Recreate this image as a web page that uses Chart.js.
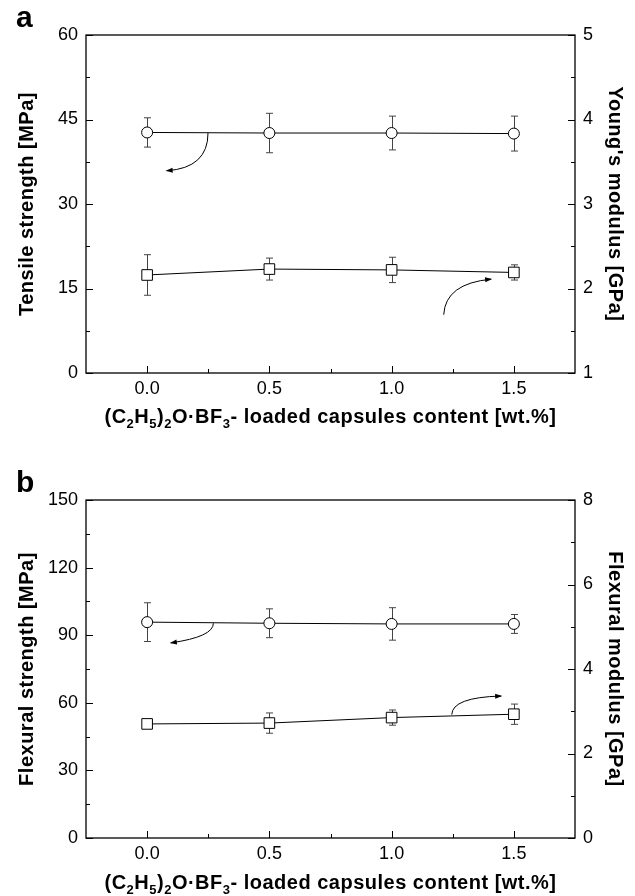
<!DOCTYPE html>
<html>
<head>
<meta charset="utf-8">
<script src="https://cdn.jsdelivr.net/npm/chart.js@4.4.0/dist/chart.umd.min.js"></script>
<style>
  body { margin: 0; background: #fff; }
  .panel { position: absolute; left: 0; }
</style>
</head>
<body>
<div class="panel" style="top:0"><canvas id="chartA" width="635" height="440"></canvas></div>
<div class="panel" style="top:440px"><canvas id="chartB" width="635" height="456"></canvas></div>
<script>
// shared x axis
const capsuleContent = [0, 0.5, 1.0, 1.5];
const xTicks = [0, 0.5, 1.0, 1.5];
const xMinorTicks = [0.25, 0.75, 1.25];

// panel a: tensile tests
const tensileStrength = [42.7, 42.6, 42.6, 42.5];
const tensileStrengthErr = [2.6, 3.5, 3.0, 3.1];
const youngsModulus = [2.16, 2.23, 2.22, 2.19];
const youngsModulusErr = [0.24, 0.13, 0.15, 0.09];
const tensileTicks = [0, 15, 30, 45, 60];
const tensileMinorTicks = [7.5, 22.5, 37.5, 52.5];
const youngsTicks = [1, 2, 3, 4, 5];
const youngsMinorTicks = [1.5, 2.5, 3.5, 4.5];

// panel b: flexural tests
const flexuralStrength = [95.8, 95.3, 95.0, 95.0];
const flexuralStrengthErr = [8.6, 6.4, 7.2, 4.2];
const flexuralModulus = [2.70, 2.72, 2.85, 2.93];
const flexuralModulusErr = [0.04, 0.24, 0.18, 0.24];
const flexStrengthTicks = [0, 30, 60, 90, 120, 150];
const flexStrengthMinorTicks = [15, 45, 75, 105, 135];
const flexModulusTicks = [0, 2, 4, 6, 8];
const flexModulusMinorTicks = [1, 3, 5, 7];

// curved arrows pointing to the axis each series belongs to (data units)
const arrowsA = [
  { axis: 'y', from: [0.249, 42.6], via: [0.249, 36.4], to: [0.08, 35.9] },
  { axis: 'y2', from: [1.213, 1.69], via: [1.22, 2.06], to: [1.407, 2.11] }
];
const arrowsB = [
  { axis: 'y', from: [0.271, 95.3], via: [0.271, 89.3], to: [0.097, 86.6] },
  { axis: 'y2', from: [1.246, 2.92], via: [1.248, 3.33], to: [1.448, 3.36] }
];

// x title pieces, second item = subscript
const xTitleParts = [['(C', 0], ['2', 1], ['H', 0], ['5', 1], [')', 0], ['2', 1], ['O·BF', 0], ['3', 1], ['- loaded capsules content [wt.%]', 0]];

const FONT = "'Liberation Sans', Arial, sans-serif";

function fixTicks(values) {
  return scale => { scale.ticks = values.map(v => ({ value: v })); };
}

const decor = {
  id: 'decor',
  beforeDatasetsDraw(chart) {
    // error bars under the markers
    const ctx = chart.ctx;
    ctx.save();
    ctx.strokeStyle = '#444';
    ctx.lineWidth = 1;
    chart.data.datasets.forEach(ds => {
      const xs = chart.scales.x, ys = chart.scales[ds.yAxisID];
      ds.data.forEach((p, j) => {
        const e = ds.errors[j];
        const px = Math.round(xs.getPixelForValue(p.x)) + 0.5;
        const top = ys.getPixelForValue(p.y + e), bot = ys.getPixelForValue(p.y - e);
        ctx.beginPath();
        ctx.moveTo(px, top); ctx.lineTo(px, bot);
        ctx.moveTo(px - 3.5, top); ctx.lineTo(px + 3.5, top);
        ctx.moveTo(px - 3.5, bot); ctx.lineTo(px + 3.5, bot);
        ctx.stroke();
      });
    });
    ctx.restore();
  },
  afterDraw(chart, args, opts) {
    const ctx = chart.ctx;
    const a = chart.chartArea;
    const sx = chart.scales.x, sy = chart.scales.y, sy2 = chart.scales.y2;
    ctx.save();
    ctx.strokeStyle = '#000';
    ctx.lineWidth = 1.3;
    ctx.strokeRect(a.left, a.top, a.right - a.left, a.bottom - a.top);

    // inward ticks
    ctx.lineWidth = 1;
    ctx.beginPath();
    const tick = (x1, y1, x2, y2) => { ctx.moveTo(x1, y1); ctx.lineTo(x2, y2); };
    xTicks.forEach(v => { const x = Math.round(sx.getPixelForValue(v)) + 0.5; tick(x, a.bottom, x, a.bottom - 7); });
    xMinorTicks.forEach(v => { const x = Math.round(sx.getPixelForValue(v)) + 0.5; tick(x, a.bottom, x, a.bottom - 4); });
    opts.yTicks.forEach(v => { const y = Math.round(sy.getPixelForValue(v)) + 0.5; tick(a.left, y, a.left + 7, y); });
    opts.yMinor.forEach(v => { const y = Math.round(sy.getPixelForValue(v)) + 0.5; tick(a.left, y, a.left + 4, y); });
    opts.y2Ticks.forEach(v => { const y = Math.round(sy2.getPixelForValue(v)) + 0.5; tick(a.right, y, a.right - 7, y); });
    opts.y2Minor.forEach(v => { const y = Math.round(sy2.getPixelForValue(v)) + 0.5; tick(a.right, y, a.right - 4, y); });
    ctx.stroke();

    // curved arrows
    opts.arrows.forEach(ar => {
      const ys = chart.scales[ar.axis];
      const p0 = [sx.getPixelForValue(ar.from[0]), ys.getPixelForValue(ar.from[1])];
      const pc = [sx.getPixelForValue(ar.via[0]), ys.getPixelForValue(ar.via[1])];
      const p1 = [sx.getPixelForValue(ar.to[0]), ys.getPixelForValue(ar.to[1])];
      ctx.beginPath();
      ctx.moveTo(p0[0], p0[1]);
      ctx.quadraticCurveTo(pc[0], pc[1], p1[0], p1[1]);
      ctx.stroke();
      const ang = Math.atan2(p1[1] - pc[1], p1[0] - pc[0]);
      ctx.save();
      ctx.translate(p1[0], p1[1]);
      ctx.rotate(ang);
      ctx.fillStyle = '#000';
      ctx.beginPath();
      ctx.moveTo(1, 0); ctx.lineTo(-6, -2.5); ctx.lineTo(-6, 2.5); ctx.closePath();
      ctx.fill();
      ctx.restore();
    });

    // titles
    ctx.fillStyle = '#000';
    ctx.letterSpacing = '0.5px';
    ctx.font = 'bold 20px ' + FONT;
    ctx.textAlign = 'center';
    ctx.textBaseline = 'middle';
    const cy = (a.top + a.bottom) / 2;
    ctx.save();
    ctx.translate(27, cy); ctx.rotate(-Math.PI / 2);
    ctx.fillText(opts.leftTitle, 0, 0);
    ctx.restore();
    ctx.save();
    ctx.translate(615, cy); ctx.rotate(Math.PI / 2);
    ctx.fillText(opts.rightTitle, 0, 0);
    ctx.restore();

    // x title with subscripts
    ctx.textAlign = 'left';
    ctx.textBaseline = 'alphabetic';
    const mainFont = 'bold 20px ' + FONT, subFont = 'bold 13px ' + FONT;
    let total = 0;
    xTitleParts.forEach(([t, sub]) => { ctx.font = sub ? subFont : mainFont; total += ctx.measureText(t).width; });
    let x = (a.left + a.right) / 2 - total / 2;
    const base = a.bottom + opts.xTitleGap;
    xTitleParts.forEach(([t, sub]) => {
      ctx.font = sub ? subFont : mainFont;
      ctx.fillText(t, x, sub ? base + 5 : base);
      x += ctx.measureText(t).width;
    });

    // panel letter
    ctx.letterSpacing = '0px';
    ctx.font = 'bold 30px ' + FONT;
    ctx.fillText(opts.letter, 16, opts.letterY);
    ctx.restore();
  }
};

function makeChart(id, cfg) {
  const tickFont = { family: FONT, size: 18 };
  return new Chart(document.getElementById(id), {
    type: 'line',
    data: {
      datasets: [
        {
          data: capsuleContent.map((x, i) => ({ x: x, y: cfg.strength[i] })),
          errors: cfg.strengthErr,
          yAxisID: 'y',
          borderColor: '#000', borderWidth: 1,
          pointStyle: 'circle', pointRadius: 5.5,
          pointBackgroundColor: '#fff', pointBorderColor: '#000', pointBorderWidth: 1
        },
        {
          data: capsuleContent.map((x, i) => ({ x: x, y: cfg.modulus[i] })),
          errors: cfg.modulusErr,
          yAxisID: 'y2',
          borderColor: '#000', borderWidth: 1,
          pointStyle: 'rect', pointRadius: 7.5,
          pointBackgroundColor: '#fff', pointBorderColor: '#000', pointBorderWidth: 1
        }
      ]
    },
    options: {
      responsive: false,
      animation: false,
      devicePixelRatio: 1,
      layout: { padding: { top: cfg.top, left: 0, right: 0, bottom: 0 } },
      plugins: {
        legend: { display: false },
        tooltip: { enabled: false },
        decor: cfg.decor
      },
      scales: {
        x: {
          type: 'linear', min: -0.25, max: 1.75,
          afterBuildTicks: fixTicks(xTicks),
          afterFit: s => { s.height = cfg.xHeight; },
          grid: { display: false, drawTicks: false },
          border: { display: false },
          ticks: { padding: 5, color: '#000', font: tickFont, callback: v => v.toFixed(1) }
        },
        y: {
          position: 'left', min: cfg.yMin, max: cfg.yMax,
          afterBuildTicks: fixTicks(cfg.decor.yTicks),
          afterFit: s => { s.width = 86; },
          grid: { display: false, drawTicks: false },
          border: { display: false },
          ticks: { padding: 8, color: '#000', font: tickFont }
        },
        y2: {
          position: 'right', min: cfg.y2Min, max: cfg.y2Max,
          afterBuildTicks: fixTicks(cfg.decor.y2Ticks),
          afterFit: s => { s.width = 60; },
          grid: { display: false, drawTicks: false },
          border: { display: false },
          ticks: { padding: 8, color: '#000', font: tickFont }
        }
      }
    },
    plugins: [decor]
  });
}

makeChart('chartA', {
  top: 35, xHeight: 67,
  strength: tensileStrength, strengthErr: tensileStrengthErr,
  modulus: youngsModulus, modulusErr: youngsModulusErr,
  yMin: 0, yMax: 60, y2Min: 1, y2Max: 5,
  decor: {
    yTicks: tensileTicks, yMinor: tensileMinorTicks,
    y2Ticks: youngsTicks, y2Minor: youngsMinorTicks,
    arrows: arrowsA,
    leftTitle: 'Tensile strength [MPa]', rightTitle: "Young's modulus [GPa]",
    xTitleGap: 50, letter: 'a', letterY: 27
  }
});

makeChart('chartB', {
  top: 60, xHeight: 58,
  strength: flexuralStrength, strengthErr: flexuralStrengthErr,
  modulus: flexuralModulus, modulusErr: flexuralModulusErr,
  yMin: 0, yMax: 150, y2Min: 0, y2Max: 8,
  decor: {
    yTicks: flexStrengthTicks, yMinor: flexStrengthMinorTicks,
    y2Ticks: flexModulusTicks, y2Minor: flexModulusMinorTicks,
    arrows: arrowsB,
    leftTitle: 'Flexural strength [MPa]', rightTitle: 'Flexural modulus [GPa]',
    xTitleGap: 51, letter: 'b', letterY: 52
  }
});
</script>
</body>
</html>
